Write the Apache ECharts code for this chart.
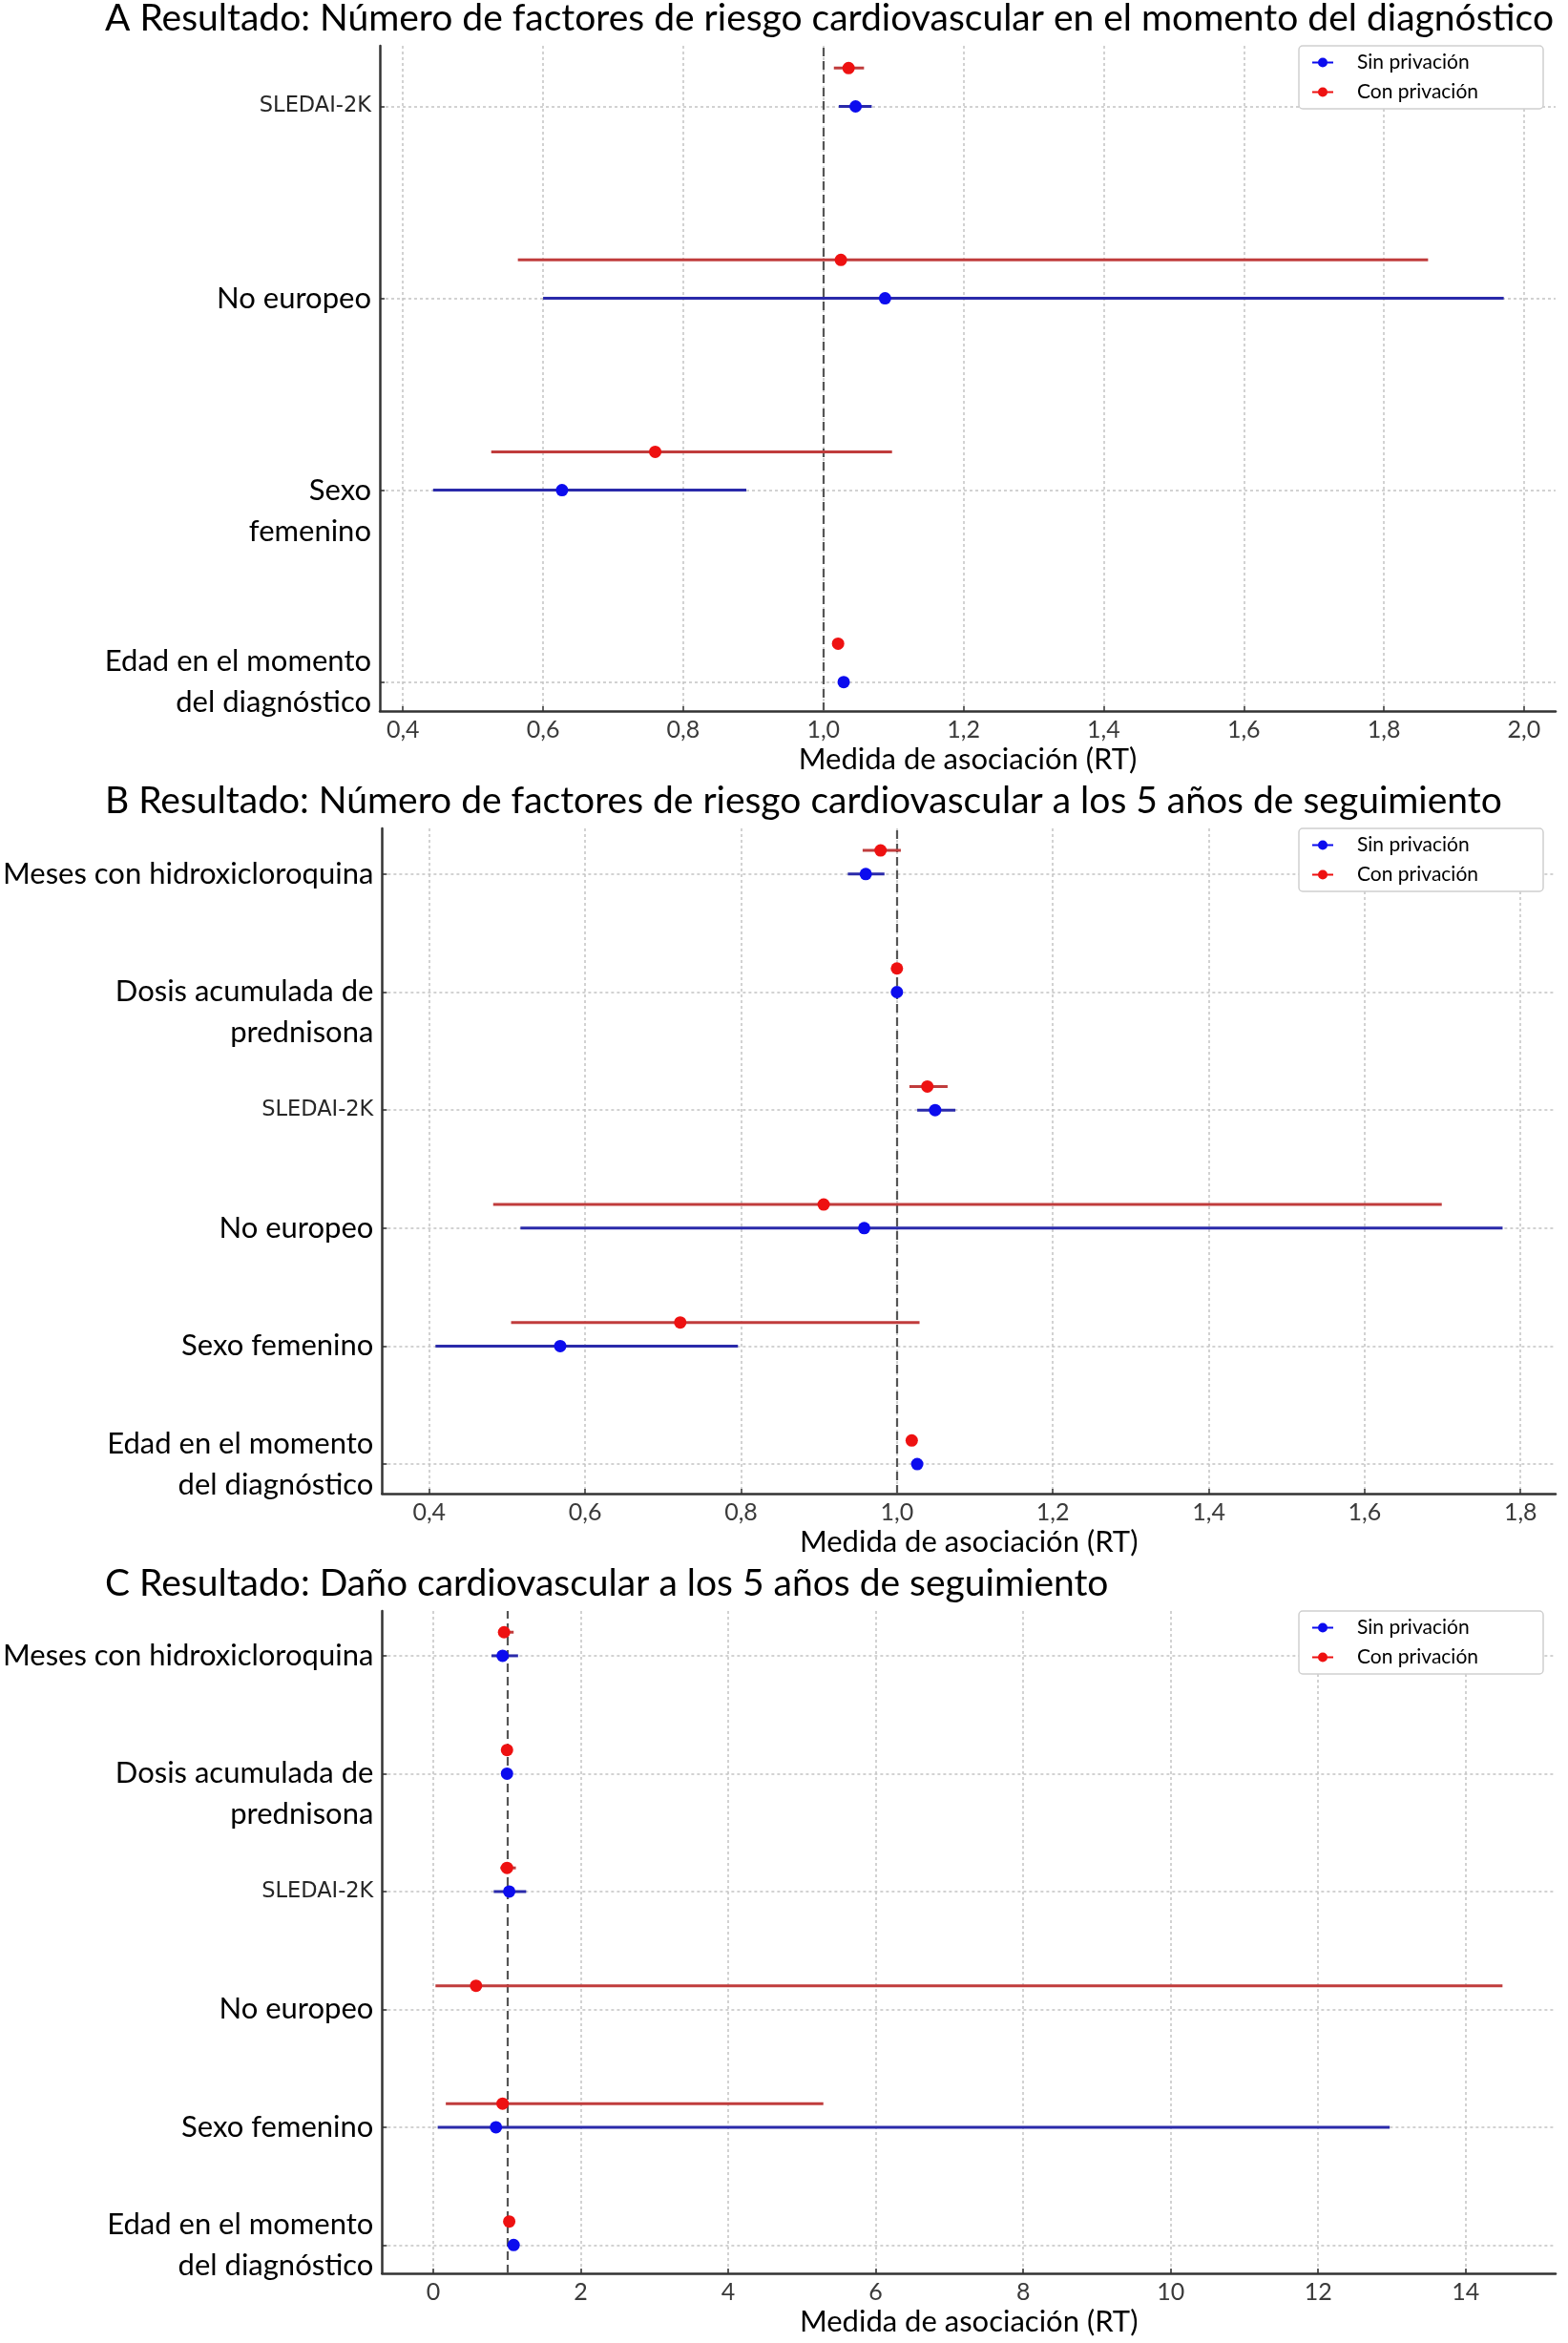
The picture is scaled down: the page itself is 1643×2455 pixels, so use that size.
<!DOCTYPE html>
<html><head><meta charset="utf-8">
<script src="https://cdn.jsdelivr.net/npm/echarts@6/dist/echarts.min.js"></script>
<style>html,body{margin:0;padding:0;background:#fff}#chart{width:1643px;height:2455px}</style>
</head><body><div id="chart"></div>
<script>
// ---------- DATA (index 0 = bottom category) ----------
const titleA = 'A Resultado: Número de factores de riesgo cardiovascular en el momento del diagnóstico';
const titleB = 'B Resultado: Número de factores de riesgo cardiovascular a los 5 años de seguimiento';
const titleC = 'C Resultado: Daño cardiovascular a los 5 años de seguimiento';
const xAxisName = 'Medida de asociación (RT)';
const seriesNames = ['Sin privación', 'Con privación'];

const catsA = ['Edad en el momento\ndel diagnóstico', 'Sexo\nfemenino', 'No europeo', 'SLEDAI-2K'];
const sinA_est = [1.029, 0.627, 1.088, 1.046];
const sinA_lo  = [1.024, 0.443, 0.600, 1.022];
const sinA_hi  = [1.034, 0.890, 1.971, 1.069];
const conA_est = [1.021, 0.760, 1.025, 1.036];
const conA_lo  = [1.016, 0.526, 0.564, 1.015];
const conA_hi  = [1.026, 1.098, 1.863, 1.058];
const ticksA = [0.4, 0.6, 0.8, 1.0, 1.2, 1.4, 1.6, 1.8, 2.0];

const catsB = ['Edad en el momento\ndel diagnóstico', 'Sexo femenino', 'No europeo', 'SLEDAI-2K', 'Dosis acumulada de\nprednisona', 'Meses con hidroxicloroquina'];
const sinB_est = [1.026, 0.568, 0.958, 1.049, 1.000, 0.960];
const sinB_lo  = [1.022, 0.408, 0.517, 1.026, 0.997, 0.937];
const sinB_hi  = [1.030, 0.796, 1.777, 1.075, 1.003, 0.984];
const conB_est = [1.019, 0.722, 0.906, 1.039, 1.000, 0.979];
const conB_lo  = [1.015, 0.505, 0.482, 1.016, 0.997, 0.956];
const conB_hi  = [1.023, 1.029, 1.699, 1.065, 1.003, 1.005];
const ticksB = [0.4, 0.6, 0.8, 1.0, 1.2, 1.4, 1.6, 1.8];

const catsC = ['Edad en el momento\ndel diagnóstico', 'Sexo femenino', 'No europeo', 'SLEDAI-2K', 'Dosis acumulada de\nprednisona', 'Meses con hidroxicloroquina'];
const sinC_est = [1.09, 0.85, null, 1.03, 1.00, 0.94];
const sinC_lo  = [1.05, 0.06, null, 0.82, 0.97, 0.79];
const sinC_hi  = [1.13, 12.97, null, 1.26, 1.03, 1.15];
const conC_est = [1.03, 0.94, 0.58, 1.00, 1.00, 0.96];
const conC_lo  = [0.99, 0.17, 0.03, 0.91, 0.97, 0.88];
const conC_hi  = [1.07, 5.29, 14.5, 1.12, 1.03, 1.09];
const ticksC = [0, 2, 4, 6, 8, 10, 12, 14];

// ---------- STYLE / LAYOUT ----------
const FONT = 'Lato';
const BLUE_PT = '#0c0cee', RED_PT = '#ee1111';
const BLUE_LN = '#2a2aaa', RED_LN = '#c03c3c';
const OFFSET = 0.2;
const topAnchored = ['Sexo\nfemenino', 'Dosis acumulada de\nprednisona'];

const panels = [
  { title: titleA, cats: catsA, sin: [sinA_est, sinA_lo, sinA_hi], con: [conA_est, conA_lo, conA_hi], ticks: ticksA,
    xmin: 0.367, xmax: 2.045, ymin: -0.151, ymax: 3.316, top: 48, height: 697, titleTop: 0, dec: 1, legendTop: 48 },
  { title: titleB, cats: catsB, sin: [sinB_est, sinB_lo, sinB_hi], con: [conB_est, conB_lo, conB_hi], ticks: ticksB,
    xmin: 0.3395, xmax: 1.845, ymin: -0.25, ymax: 5.387, top: 868, height: 697, titleTop: 820, dec: 1, legendTop: 868 },
  { title: titleC, cats: catsC, sin: [sinC_est, sinC_lo, sinC_hi], con: [conC_est, conC_lo, conC_hi], ticks: ticksC,
    xmin: -0.694, xmax: 15.22, ymin: -0.24, ymax: 5.38, top: 1688, height: 694, titleTop: 1640, dec: 0, legendTop: 1688 }
];

const chart = echarts.init(document.getElementById('chart'), null, { renderer: 'canvas' });
const option = { backgroundColor: '#fff', animation: false, title: [], grid: [], xAxis: [], yAxis: [], legend: [], series: [] };
const legendIcon = 'path://M0,4.1H22V5.9H0Z M16,5A5,5,0,1,1,6,5A5,5,0,1,1,16,5Z';

panels.forEach((p, i) => {
  option.title.push({ text: p.title, left: 110, top: p.titleTop, padding: 0,
    textStyle: { fontFamily: FONT, fontSize: 39, fontWeight: 'normal', color: '#000' } });
  option.grid.push({ left: 398, right: 13, top: p.top, height: p.height, containLabel: false });
  option.xAxis.push({
    type: 'value', gridIndex: i, min: p.xmin, max: p.xmax,
    name: xAxisName, nameLocation: 'middle', nameGap: 35,
    nameTextStyle: { fontFamily: FONT, fontSize: 31, color: '#000' },
    axisLine: { onZero: false, lineStyle: { color: '#333', width: 2.5 } },
    axisTick: { inside: true, length: 5, customValues: p.ticks, lineStyle: { color: '#333', width: 1.5 } },
    axisLabel: { customValues: p.ticks, margin: 7, fontFamily: FONT, fontSize: 25, color: '#3a3a3a',
      formatter: v => p.dec ? v.toFixed(1).replace('.', ',') : String(Math.round(v)) },
    splitLine: { show: true, lineStyle: { type: [3, 3], color: '#c4c4c4', width: 1.5 } }
  });
  const yTicks = p.cats.map((c, k) => k);
  option.yAxis.push({
    type: 'value', gridIndex: i, min: p.ymin, max: p.ymax,
    axisLine: { show: true, onZero: false, lineStyle: { color: '#333', width: 2.5 } },
    axisTick: { show: true, inside: true, length: 5, customValues: yTicks, lineStyle: { color: '#333', width: 1.5 } },
    axisLabel: { customValues: yTicks, margin: 9, fontFamily: FONT, fontSize: 31, color: '#000', lineHeight: 43,
      formatter: v => {
        const lab = p.cats[Math.round(v)];
        if (lab === 'SLEDAI-2K') return '{s|' + lab + '}';
        if (topAnchored.includes(lab)) return '\n' + lab;
        return lab;
      },
      rich: { s: { fontFamily: 'DejaVu Sans', fontSize: 22.5, color: '#262626', lineHeight: 43 } } },
    splitLine: { show: true, lineStyle: { type: [3, 3], color: '#c4c4c4', width: 1.5 } }
  });
  option.legend.push({
    data: seriesNames, orient: 'vertical', left: 1361, top: p.legendTop,
    backgroundColor: '#fff', borderColor: '#cfcfcf', borderWidth: 1.5, borderRadius: 4,
    padding: [7, 68, 7, 14], itemGap: 10, itemWidth: 22, itemHeight: 10, icon: legendIcon,
    textStyle: { fontFamily: FONT, fontSize: 21, color: '#000', padding: [0, 0, 0, 20] }
  });
  const groups = [
    { name: seriesNames[0], d: p.sin, off: 0, pt: BLUE_PT, ln: BLUE_LN },
    { name: seriesNames[1], d: p.con, off: OFFSET, pt: RED_PT, ln: RED_LN }
  ];
  groups.forEach((g, gi) => {
    const [est, lo, hi] = g.d;
    const bars = [], pts = [];
    est.forEach((v, k) => {
      if (v == null) return;
      bars.push([lo[k], hi[k], k + g.off]);
      pts.push([v, k + g.off]);
    });
    const bar = {
      type: 'custom', name: g.name + ' IC', xAxisIndex: i, yAxisIndex: i, silent: true, z: 2,
      encode: { x: [0, 1], y: 2 }, data: bars,
      renderItem: (params, api) => {
        const y = api.value(2);
        const a = api.coord([api.value(0), y]);
        const b = api.coord([api.value(1), y]);
        return { type: 'line', shape: { x1: a[0], y1: a[1], x2: b[0], y2: b[1] },
          style: { stroke: g.ln, lineWidth: 3 } };
      }
    };
    if (gi === 0) {
      bar.markLine = { silent: true, symbol: 'none', label: { show: false }, z: 1,
        lineStyle: { type: [9, 5], color: '#555', width: 2.2 }, data: [{ xAxis: 1 }] };
    }
    option.series.push(bar);
    option.series.push({
      type: 'scatter', name: g.name, xAxisIndex: i, yAxisIndex: i, z: 3,
      symbol: 'circle', symbolSize: 13, itemStyle: { color: g.pt, opacity: 1 }, data: pts
    });
  });
});

chart.setOption(option);
</script>
</body></html>
